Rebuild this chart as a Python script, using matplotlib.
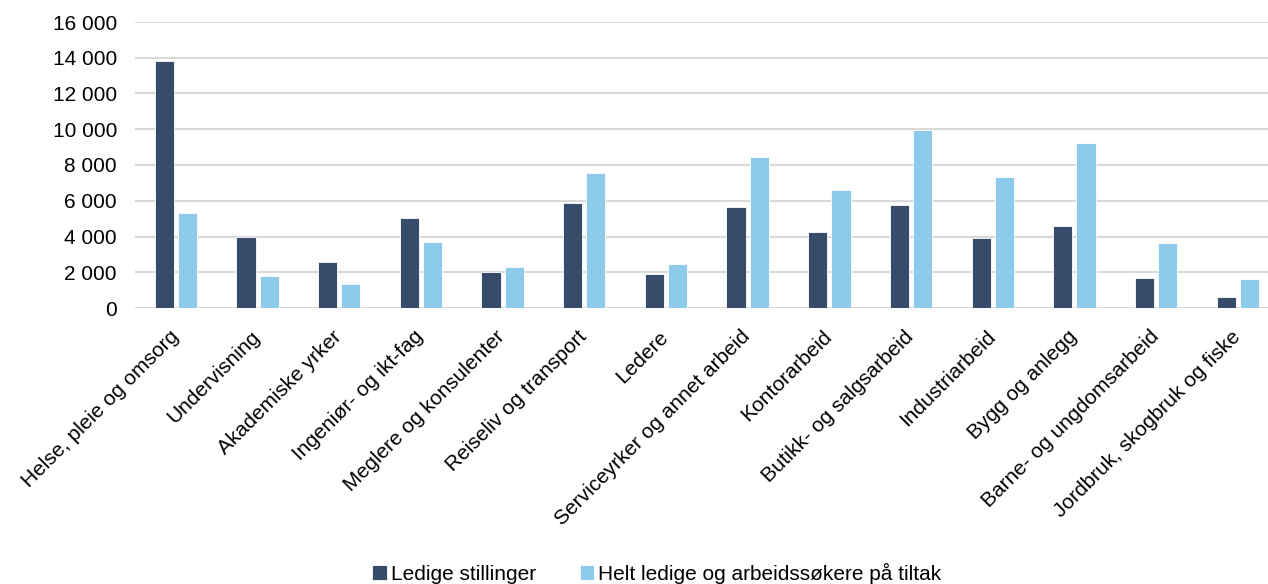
import numpy as np
import matplotlib
matplotlib.use("Agg")
import matplotlib.pyplot as plt
import matplotlib.transforms as mtransforms
from matplotlib.ticker import FuncFormatter

plt.rcParams['font.family'] = ['Liberation Sans', 'DejaVu Sans']

# Data
kategorier = [
    "Helse, pleie og omsorg", "Undervisning", "Akademiske yrker",
    "Ingeniør- og ikt-fag", "Meglere og konsulenter", "Reiseliv og transport",
    "Ledere", "Serviceyrker og annet arbeid", "Kontorarbeid",
    "Butikk- og salgsarbeid", "Industriarbeid", "Bygg og anlegg",
    "Barne- og ungdomsarbeid", "Jordbruk, skogbruk og fiske",
]
ledige_stillinger = [13800, 3950, 2570, 5050, 2010, 5870, 1880, 5670, 4250, 5740, 3920, 4600, 1680, 620]
helt_ledige = [5300, 1800, 1340, 3670, 2310, 7530, 2480, 8460, 6620, 9970, 7310, 9210, 3610, 1620]

farge_mork = "#374C6A"
farge_lys = "#8ECBEB"
fs = 15

fig = plt.figure(figsize=(12.68, 5.84), dpi=100)
ax = fig.add_axes([135 / 1268, 1 - 308 / 584, 1 - 135 / 1268, 286 / 584])

x = np.arange(len(kategorier))
bredde = 0.235
ax.bar(x - 0.142, ledige_stillinger, bredde, color=farge_mork, edgecolor="white",
       linewidth=0.6, label="Ledige stillinger", zorder=3)
ax.bar(x + 0.142, helt_ledige, bredde, color=farge_lys, edgecolor="white",
       linewidth=0.6, label="Helt ledige og arbeidssøkere på tiltak", zorder=3)

ax.set_xlim(-0.5, 13.37)
ax.set_ylim(0, 16000)
ax.set_yticks(np.arange(0, 16001, 2000))
ax.yaxis.set_major_formatter(FuncFormatter(lambda v, p: f"{int(v):,}".replace(",", " ")))
ax.grid(axis="y", color="#D9D9D9", linewidth=1.5, zorder=0)
ax.set_axisbelow(True)
for s in ax.spines.values():
    s.set_visible(False)
ax.tick_params(axis="both", length=0, labelsize=fs, colors="black")
ax.tick_params(axis="y", pad=13)

ax.set_xticks(x)
ax.set_xticklabels(kategorier, rotation=45, ha="right", rotation_mode="anchor")
ax.tick_params(axis="x", pad=8)
# flytt etikettene litt ned og til venstre
forskyv = mtransforms.ScaledTranslation(-7 / 100, -8 / 100, fig.dpi_scale_trans)
for lab in ax.get_xticklabels():
    lab.set_transform(lab.get_transform() + forskyv)

fig.legend(loc="center", bbox_to_anchor=(0.518, 11 / 584), ncol=2, frameon=False,
           fontsize=fs, handlelength=0.7, handleheight=0.7, handletextpad=0.2,
           columnspacing=2.1, borderpad=0)

fig.savefig("out.png", dpi=100)
